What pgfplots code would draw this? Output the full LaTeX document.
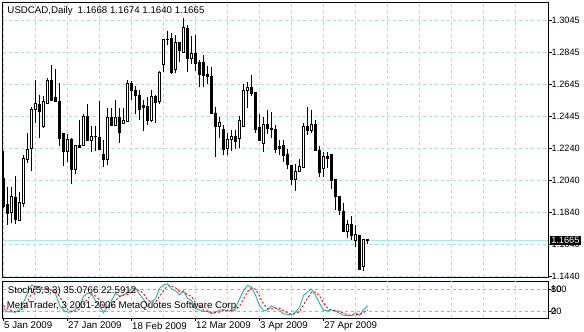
\documentclass[border=0pt]{standalone}
\usepackage{fontspec}
\setmainfont{Liberation Sans}
\usepackage{pgfplots}
\usepackage{pgfplotstable}
\pgfplotsset{compat=1.18}
\definecolor{gridc}{RGB}{150,228,228}
\definecolor{pricel}{RGB}{160,236,236}
\definecolor{stochk}{RGB}{32,178,170}
\definecolor{gridg}{RGB}{175,175,175}
\newcommand\mtfont{\fontsize{9.7}{11}\selectfont}
\newcommand\tkfont{\fontsize{9.2}{10}\selectfont}

\pgfplotstableread{
i O H L C
0 1.2054 1.2228 1.1866 1.1881
1 1.1893 1.2002 1.1762 1.1835
2 1.1841 1.2002 1.1772 1.1942
3 1.1937 1.2069 1.1766 1.1797
4 1.1791 1.1970 1.1791 1.1906
5 1.1898 1.2201 1.1876 1.2180
6 1.2174 1.2338 1.2149 1.2236
7 1.2243 1.2502 1.2102 1.2487
8 1.2487 1.2671 1.2399 1.2525
9 1.2520 1.2577 1.2309 1.2472
10 1.2378 1.2572 1.2372 1.2539
11 1.2525 1.2685 1.2520 1.2671
12 1.2665 1.2765 1.2539 1.2545
13 1.2560 1.2740 1.2535 1.2535
14 1.2539 1.2650 1.2259 1.2305
15 1.2338 1.2338 1.2132 1.2221
16 1.2221 1.2330 1.2155 1.2301
17 1.2301 1.2309 1.2021 1.2108
18 1.2111 1.2263 1.2083 1.2263
19 1.2263 1.2420 1.2251 1.2251
20 1.2263 1.2456 1.2259 1.2443
21 1.2443 1.2518 1.2288 1.2293
22 1.2293 1.2382 1.2221 1.2320
23 1.2318 1.2382 1.2226 1.2320
24 1.2313 1.2539 1.2238 1.2238
25 1.2201 1.2295 1.2127 1.2171
26 1.2174 1.2493 1.2138 1.2433
27 1.2433 1.2495 1.2384 1.2384
28 1.2387 1.2545 1.2382 1.2433
29 1.2439 1.2493 1.2278 1.2340
30 1.2397 1.2493 1.2395 1.2418
31 1.2414 1.2671 1.2409 1.2650
32 1.2650 1.2665 1.2545 1.2604
33 1.2608 1.2633 1.2458 1.2572
34 1.2577 1.2608 1.2420 1.2487
35 1.2514 1.2545 1.2353 1.2497
36 1.2502 1.2566 1.2389 1.2420
37 1.2420 1.2608 1.2409 1.2570
38 1.2570 1.2577 1.2399 1.2528
39 1.2537 1.2729 1.2520 1.2721
40 1.2769 1.2926 1.2721 1.2926
41 1.2922 1.2978 1.2890 1.2926
42 1.2932 1.2965 1.2707 1.2721
43 1.2734 1.2953 1.2715 1.2907
44 1.2907 1.2907 1.2784 1.2853
45 1.2846 1.3058 1.2846 1.3001
46 1.2995 1.3016 1.2724 1.2807
47 1.2806 1.2947 1.2771 1.2838
48 1.2840 1.2953 1.2727 1.2776
49 1.2781 1.2796 1.2625 1.2708
50 1.2779 1.2828 1.2629 1.2702
51 1.2707 1.2759 1.2646 1.2691
52 1.2691 1.2752 1.2458 1.2458
53 1.2464 1.2502 1.2190 1.2378
54 1.2378 1.2441 1.2310 1.2406
55 1.2362 1.2389 1.2201 1.2236
56 1.2243 1.2338 1.2201 1.2299
57 1.2298 1.2357 1.2226 1.2315
58 1.2315 1.2357 1.2236 1.2284
59 1.2305 1.2442 1.2244 1.2420
60 1.2382 1.2643 1.2378 1.2608
61 1.2604 1.2660 1.2497 1.2625
62 1.2625 1.2702 1.2570 1.2589
63 1.2591 1.2596 1.2337 1.2362
64 1.2374 1.2458 1.2290 1.2290
65 1.2270 1.2441 1.2221 1.2395
66 1.2395 1.2483 1.2332 1.2368
67 1.2370 1.2472 1.2305 1.2362
68 1.2362 1.2389 1.2211 1.2238
69 1.2257 1.2295 1.2201 1.2244
70 1.2261 1.2295 1.2159 1.2196
71 1.2207 1.2238 1.2113 1.2140
72 1.2138 1.2138 1.2011 1.2048
73 1.2048 1.2142 1.1977 1.2098
74 1.2096 1.2174 1.2096 1.2127
75 1.2123 1.2403 1.2123 1.2382
76 1.2382 1.2503 1.2326 1.2357
77 1.2357 1.2483 1.2338 1.2389
78 1.2389 1.2420 1.2228 1.2232
79 1.2232 1.2257 1.2064 1.2090
80 1.2117 1.2221 1.2064 1.2194
81 1.2194 1.2221 1.2117 1.2180
82 1.2201 1.2201 1.1985 1.2044
83 1.2048 1.2048 1.1856 1.1939
84 1.1943 1.1943 1.1824 1.1851
85 1.1845 1.1898 1.1720 1.1720
86 1.1720 1.1793 1.1678 1.1762
87 1.1762 1.1820 1.1668 1.1695
88 1.1663 1.1762 1.1626 1.1701
89 1.1699 1.1699 1.1486 1.1486
90 1.1500 1.1672 1.1475 1.1668
91 1.1668 1.1674 1.1640 1.1665
}\ohlc

\pgfplotstableread{
i K D
0 28 35
1 18 26
2 18 21.3
3 17 17.7
4 23 19.3
5 44 28.0
6 69.9 45.6
7 92.1 68.7
8 88.0 83.3
9 85.1 88.4
10 78.8 84.0
11 82.3 82.1
12 77.3 79.5
13 69.0 76.2
14 35.9 60.7
15 22.7 42.5
16 17.2 25.3
17 17.5 19.1
18 25.2 20.0
19 32.1 24.9
20 61.2 39.5
21 69.4 54.2
22 68.1 66.2
23 49.3 62.3
24 33.5 50.3
25 15.5 32.8
26 32.1 27.0
27 49.1 32.2
28 69.9 50.4
29 62.1 60.4
30 64.2 65.4
31 71.0 65.8
32 82.0 72.4
33 84.2 79.1
34 67.1 77.8
35 53.8 68.4
36 33.5 51.5
37 47.1 44.8
38 54.3 45.0
39 83.5 61.6
40 92.5 76.8
41 96.0 90.7
42 81.8 90.1
43 76.5 84.8
44 65.3 74.5
45 76.6 72.8
46 55.6 65.8
47 49.6 60.6
48 26.8 44.0
49 23.3 33.2
50 18.3 22.8
51 19.7 20.4
52 11.8 16.6
53 17.4 16.3
54 22.8 17.3
55 24.4 21.5
56 21.0 22.7
57 19.5 21.6
58 28.5 23.0
59 54.0 34.0
60 76.9 53.1
61 91.8 74.2
62 86.4 85.0
63 64.0 80.7
64 35.2 61.9
65 21.5 40.2
66 23.3 26.7
67 34.5 26.4
68 27.9 28.6
69 22.8 28.4
70 12.4 21.0
71 11.2 15.5
72 9.6 11.1
73 17.6 12.8
74 30.6 19.3
75 63.8 37.3
76 73.7 56.0
77 81.0 72.8
78 63.6 72.8
79 41.7 62.1
80 22.6 42.6
81 20.9 28.4
82 23.5 22.3
83 20.5 21.6
84 13.7 19.2
85 8.5 14.2
86 7.8 10.0
87 7.9 8.1
88 15.2 10.3
89 8.5 10.5
90 24.2 15.97
91 35.0766 22.5912
}\stoch

\begin{document}
\begin{tikzpicture}[x=1pt,y=1pt]
\useasboundingbox (0,0) rectangle (584,-332);
\fill[white] (0,0) rectangle (584,-332);

% ---------- main price panel: grid, wicks, price line ----------
\begin{axis}[
  at={(2.7pt,-2pt)}, anchor=north west, scale only axis,
  width=545.3pt, height=275pt,
  xmin=-0.2, xmax=136.1, ymin=1.14356, ymax=1.31599,
  axis line style={black, line width=1pt},
  clip mode=individual,
  xtick={0,16,...,128}, minor xtick={8,24,...,120}, xticklabels={},
  xtick style={draw=none}, minor tick length=0pt,
  xmajorgrids, xminorgrids,
  ytick={1.1440,1.1640,1.1840,1.2040,1.2240,1.2445,1.2645,1.2845,1.3045},
  yticklabels={1.1440,1.1640,1.1840,1.2040,1.2240,1.2445,1.2645,1.2845,1.3045},
  ymajorgrids,
  ytick pos=right, yticklabel pos=right, tick align=outside,
  major tick length=3.5pt,
  ytick style={black, line width=0.8pt},
  yticklabel style={font=\tkfont, anchor=west, inner sep=0pt},
  grid style={gridc, dash pattern=on 3.5pt off 2.5pt, line width=0.8pt},
  minor grid style={gridc, dash pattern=on 3.5pt off 2.5pt, line width=0.8pt},
]
\addplot[pricel, line width=0.9pt, forget plot] coordinates {(-0.2,1.1665) (136.1,1.1665)};
\addplot[draw=none, mark=none, forget plot,
  error bars/.cd, y dir=plus, y explicit, error mark=none,
  error bar style={draw=black, solid, line width=0.9pt}]
  table[x=i, y=L, y error plus expr={\thisrow{H}-\thisrow{L}}] {\ohlc};
\coordinate (cp) at (axis cs:136.1,1.1665);
\end{axis}

% ---------- candle bodies (overlay) ----------
\begin{axis}[
  at={(2.7pt,-2pt)}, anchor=north west, scale only axis,
  width=545.3pt, height=275pt,
  xmin=-0.2, xmax=136.1, ymin=1.14356, ymax=1.31599,
  hide axis, ybar stacked, bar width=2.2pt,
]
\addplot[draw=none, fill=none] table[x=i, y expr={min(\thisrow{O},\thisrow{C})}] {\ohlc};
\addplot[draw=black, fill=white, line width=0.9pt] table[x=i, y expr={max(\thisrow{C}-\thisrow{O},0)}] {\ohlc};
\addplot[draw=black, fill=black, line width=0.9pt] table[x=i, y expr={max(\thisrow{O}-\thisrow{C},0)}] {\ohlc};
\end{axis}

\node[fill=black, text=white, font=\tkfont, anchor=west, inner xsep=1.8pt, inner ysep=0pt, minimum height=9.4pt] at ([xshift=1.3pt]cp) {1.1665};
\node[font=\mtfont, anchor=west, inner sep=0pt] at (7.3,-11) {USDCAD,Daily\hspace{5pt}1.1668 1.1674 1.1640 1.1665};

% ---------- stochastic panel ----------
\begin{axis}[
  at={(2.7pt,-281.3pt)}, anchor=north west, scale only axis,
  width=545.3pt, height=37pt,
  xmin=-0.2, xmax=136.1, ymin=0, ymax=103,
  axis line style={black, line width=1pt},
  xtick={0,16,32,48,64,80},
  xticklabels={5 Jan 2009,27 Jan 2009,18 Feb 2009,12 Mar 2009,3 Apr 2009,27 Apr 2009},
  extra x ticks={96,112,128}, extra x tick labels={},
  extra x tick style={grid=major, major tick length=0pt},
  minor xtick={8,24,...,120}, minor tick length=0pt,
  xmajorgrids, xminorgrids,
  xtick pos=left, ytick pos=right, yticklabel pos=right,
  tick align=outside, major tick length=3pt,
  tick style={black, line width=0.8pt},
  ytick={20,80}, yticklabels={\rlap{0}20,\rlap{100}80},
  ymajorgrids,
  grid style={gridc, dash pattern=on 3.5pt off 2.5pt, line width=0.8pt},
  minor grid style={gridc, dash pattern=on 3.5pt off 2.5pt, line width=0.8pt},
  every axis y grid/.style={gridg, dash pattern=on 3pt off 3pt, line width=0.8pt},
  xticklabel style={font=\mtfont, anchor=north west, inner sep=0pt, xshift=0.5pt, yshift=-0.5pt},
  yticklabel style={font=\tkfont, anchor=west, inner sep=0pt},
]
\addplot[stochk, line width=0.9pt] table[x=i, y=K] {\stoch};
\addplot[red, line width=0.9pt, dash pattern=on 2pt off 2pt] table[x=i, y=D] {\stoch};
\end{axis}
\node[font=\mtfont, anchor=west, inner sep=0pt] at (7.7,-290.7) {Stoch(5,3,3) 35.0766 22.5912};
\node[font=\mtfont, anchor=west, inner sep=0pt] at (6.7,-306) {MetaTrader, 3 2001-2006 MetaQuotes Software Corp.};
\end{tikzpicture}
\end{document}
